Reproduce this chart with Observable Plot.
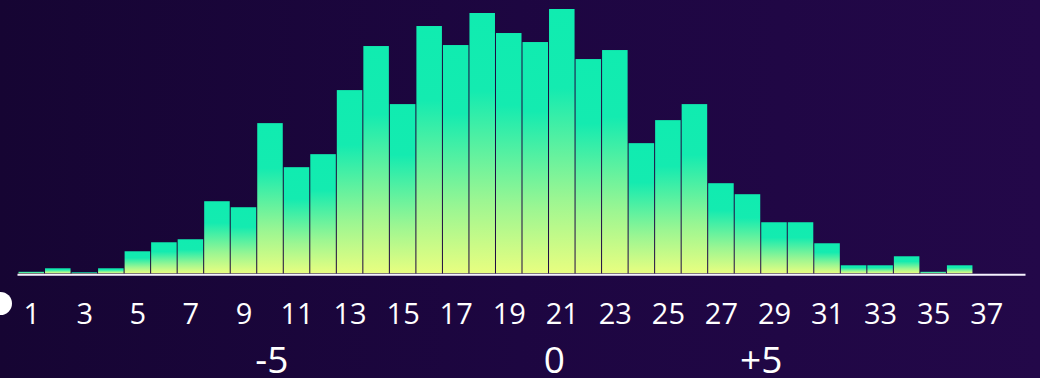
<!DOCTYPE html>
<html>
<head>
<meta charset="utf-8">
<script src="https://cdn.jsdelivr.net/npm/d3@7"></script>
<script src="https://cdn.jsdelivr.net/npm/@observablehq/plot@0.6"></script>
<style>
  html, body { margin: 0; padding: 0; }
  body { width: 1040px; height: 378px; overflow: hidden;
         background: linear-gradient(90deg, #160533 0%, #1d0641 50%, #230849 100%); }
  svg { display: block; background: transparent; }
</style>
</head>
<body>
<div id="chart"></div>
<script>
// Bin positions (1..38) and bar heights
const bins = d3.range(1, 39);
const counts = [1.5, 5, 1, 5, 22, 31, 34, 72, 66, 150, 106, 119, 183, 227, 169, 247, 228, 260,
                240, 231, 264, 214, 223, 130, 153, 169, 90, 79, 51, 51, 30, 8, 8, 17, 1.5, 8, 0, 0];
// Primary tick labels
const tickValues = [1, 3, 5, 7, 9, 11, 13, 15, 17, 19, 21, 23, 25, 27, 29, 31, 33, 35, 37];
// Secondary scale labels (position on bin axis, text)
const secondPos = [10.05, 20.7, 28.5];
const secondText = ["-5", "0", "+5"];

const data = bins.map((b, i) => ({bin: b, count: counts[i]}));
const second = secondPos.map((p, i) => ({x: p, label: secondText[i]}));

const gradientDefs = () => {
  const svgNS = "http://www.w3.org/2000/svg";
  const defs = document.createElementNS(svgNS, "defs");
  defs.innerHTML = `
    <linearGradient id="barGrad" x1="0" y1="0" x2="0" y2="1">
      <stop offset="0" stop-color="#10ecb0"/>
      <stop offset="0.3" stop-color="#14ebb0"/>
      <stop offset="0.72" stop-color="#9cf692"/>
      <stop offset="1" stop-color="#e8fe80"/>
    </linearGradient>`;
  return defs;
};

const chart = Plot.plot({
  width: 1040,
  height: 378,
  marginLeft: 18,
  marginRight: 14,
  marginTop: 8,
  marginBottom: 104.7,
  style: {background: "transparent", fontFamily: "'Open Sans', 'Noto Sans', sans-serif", color: "#ffffff"},
  x: {type: "linear", domain: [0.5, 38.5], axis: null},
  y: {domain: [0, 265], axis: null},
  marks: [
    gradientDefs,
    Plot.rectY(data, {
      x1: d => d.bin - 0.5,
      x2: d => d.bin + 0.5,
      y: "count",
      fill: "url(#barGrad)",
      insetLeft: 0.5,
      insetRight: 0.5
    }),
    Plot.ruleY([0], {stroke: "#f6f2ff", strokeWidth: 2, dy: 1, dx: -0.5}),
    Plot.axisX({
      ticks: tickValues,
      tickSize: 0,
      tickPadding: 29.4,
      fontSize: 29,
      tickFormat: d => String(d),
      fill: "#ffffff",
      label: null
    }),
    Plot.text(second, {
      x: "x",
      text: "label",
      frameAnchor: "bottom",
      lineAnchor: "top",
      dy: 73.4,
      fontSize: 37,
      fill: "#ffffff"
    }),
    Plot.dot([0], {frameAnchor: "bottom-left", dx: -18, dy: 29.7, r: 11.5, fill: "#ffffff", stroke: "none"})
  ]
});
document.getElementById("chart").appendChild(chart);
</script>
</body>
</html>
